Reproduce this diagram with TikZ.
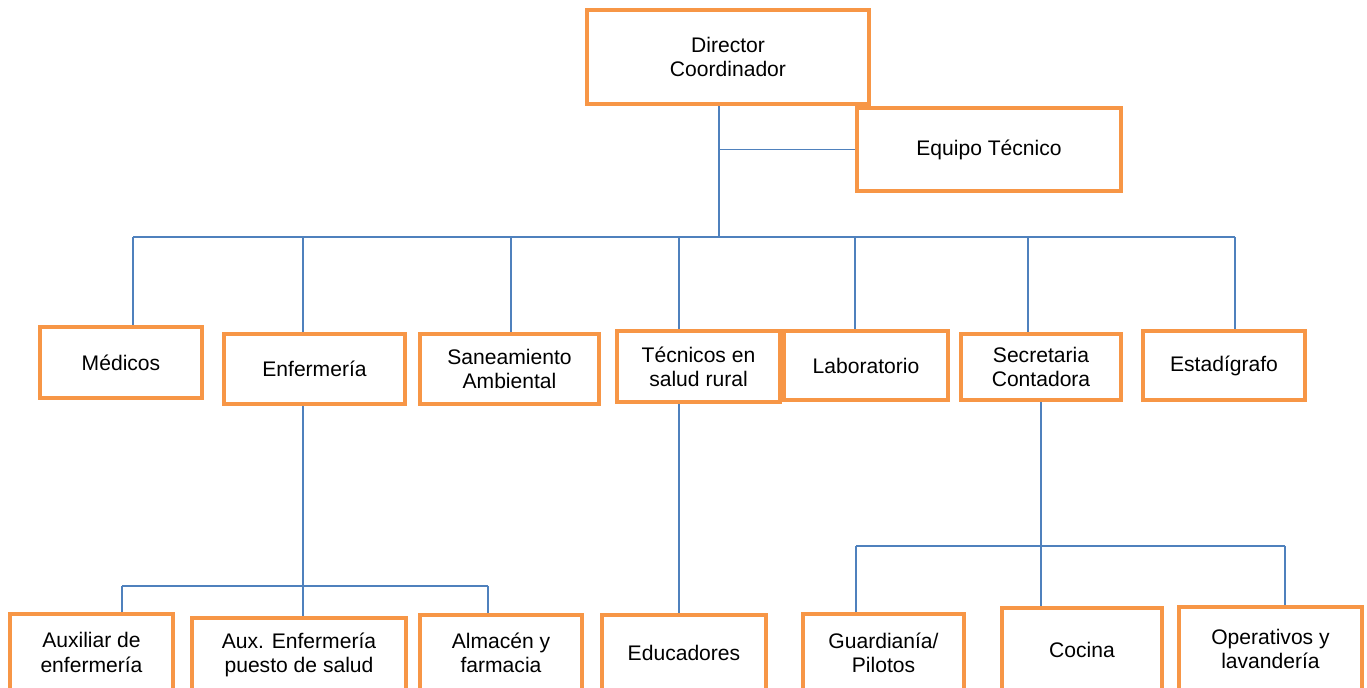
\documentclass[tikz,border=0pt]{standalone}
\usepackage{fontspec}
\setmainfont{Liberation Sans}
\usetikzlibrary{positioning,backgrounds}
\definecolor{orgorange}{RGB}{247,150,70}
\definecolor{orgblue}{RGB}{79,129,189}

\begin{document}
\begin{tikzpicture}[x=0.02cm, y=-0.02cm,
    box/.style={rectangle, draw=orgorange, line width=2.4pt, fill=white, align=center, inner sep=0pt, font=\fontsize{12}{13.7}\selectfont},
    link/.style={draw=orgblue, line width=1.1pt}
]
  \useasboundingbox (0,0) rectangle (1367,688);
  \clip (0,0) rectangle (1367,688);
  % direction
  \node[box, minimum width=5.64cm, minimum height=1.88cm] (director) at (728,57) {Director\\Coordinador};
  \node[box, minimum width=5.28cm, minimum height=1.66cm] (equipo) at (989,149.5) {Equipo Técnico};
  % second level
  \node[box, minimum width=3.24cm, minimum height=1.42cm] (medicos) at (121,362.5) {Médicos};
  \node[box, minimum width=3.62cm, minimum height=1.40cm] (enfermeria) at (314.5,369) {Enfermería};
  \node[box, minimum width=3.58cm, minimum height=1.40cm] (saneamiento) at (509.5,369) {Saneamiento\\Ambiental};
  \node[box, minimum width=3.28cm, minimum height=1.38cm] (laboratorio) at (866,365.5) {Laboratorio};
  \node[box, minimum width=3.26cm, minimum height=1.42cm] (tecnicos) at (698.5,366.5) {Técnicos en\\salud rural};
  \node[box, minimum width=3.20cm, minimum height=1.32cm] (secretaria) at (1041,367) {Secretaria\\Contadora};
  \node[box, minimum width=3.24cm, minimum height=1.38cm] (estadigrafo) at (1224,365.5) {Estadígrafo};
  % third level
  \node[box, minimum width=3.26cm, minimum height=1.54cm] (auxiliar) at (91.5,652.5) {Auxiliar de\\enfermería};
  \node[box, minimum width=4.28cm, minimum height=1.46cm] (auxpuesto) at (299,654.5) {Aux. Enfermería\\puesto de salud};
  \node[box, minimum width=3.24cm, minimum height=1.52cm] (almacen) at (501,653) {Almacén y\\farmacia};
  \node[box, minimum width=3.28cm, minimum height=1.52cm] (educadores) at (684,653) {Educadores};
  \node[box, minimum width=3.22cm, minimum height=1.54cm] (guardiania) at (883.5,652.5) {Guardianía/\\Pilotos};
  \node[box, minimum width=3.20cm, minimum height=1.66cm] (cocina) at (1082,649.5) {Cocina};
  \node[box, minimum width=3.66cm, minimum height=1.68cm] (operativos) at (1270.5,649) {Operativos y\\lavandería};
  % connectors
  \coordinate (top) at (719,237);
  \coordinate (t1) at (133,237);
  \coordinate (t2) at (303,237);
  \coordinate (t3) at (511,237);
  \coordinate (t4) at (679,237);
  \coordinate (t5) at (855,237);
  \coordinate (t6) at (1028,237);
  \coordinate (t7) at (1235,237);
  \coordinate (e) at (303,586);
  \coordinate (e1) at (122,586);
  \coordinate (e3) at (488,586);
  \coordinate (s) at (1041,546);
  \coordinate (s1) at (856,546);
  \coordinate (s3) at (1285,546);
  \begin{scope}[on background layer]
    \draw[link] (director.south -| top) -- (top);
    \draw[link] (equipo.west) -- (equipo.west -| top);
    \draw[link] (t1) -- (t7);
    \draw[link] (t1) -- (t1 |- medicos.north);
    \draw[link] (t2) -- (t2 |- enfermeria.north);
    \draw[link] (t3) -- (t3 |- saneamiento.north);
    \draw[link] (t4) -- (t4 |- tecnicos.north);
    \draw[link] (t5) -- (t5 |- laboratorio.north);
    \draw[link] (t6) -- (t6 |- secretaria.north);
    \draw[link] (t7) -- (t7 |- estadigrafo.north);
    \draw[link] (enfermeria.south -| e) -- (e |- auxpuesto.north);
    \draw[link] (e1) -- (e3);
    \draw[link] (e1) -- (e1 |- auxiliar.north);
    \draw[link] (e3) -- (e3 |- almacen.north);
    \draw[link] (tecnicos.south -| t4) -- (t4 |- educadores.north);
    \draw[link] (secretaria.south -| s) -- (s |- cocina.north);
    \draw[link] (s1) -- (s3);
    \draw[link] (s1) -- (s1 |- guardiania.north);
    \draw[link] (s3) -- (s3 |- operativos.north);
  \end{scope}
\end{tikzpicture}
\end{document}
